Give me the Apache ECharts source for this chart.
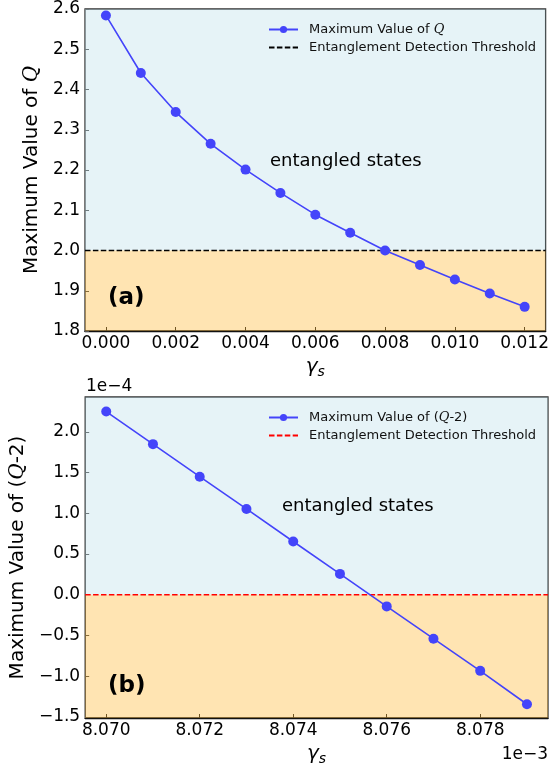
<!DOCTYPE html>
<html>
<head>
<meta charset="utf-8">
<script src="https://cdn.jsdelivr.net/npm/echarts@6/dist/echarts.min.js"></script>
<style>html,body{margin:0;padding:0;background:#fff}#c{width:552px;height:768px}</style>
</head>
<body>
<div id="c"></div>
<script>
// ---- data (a) ----
const gammaA = [0.000, 0.001, 0.002, 0.003, 0.004, 0.005, 0.006, 0.007, 0.008, 0.009, 0.010, 0.011, 0.012];
const maxQ = [2.584, 2.441, 2.344, 2.265, 2.201, 2.143, 2.089, 2.044, 2.000, 1.964, 1.928, 1.893, 1.860];
const thresholdA = 2.0;
const xTicksA = [0.000, 0.002, 0.004, 0.006, 0.008, 0.010, 0.012];
const yTicksA = [1.8, 1.9, 2.0, 2.1, 2.2, 2.3, 2.4, 2.5, 2.6];
const xRangeA = [-0.0006, 0.0126];
const yRangeA = [1.8, 2.6];
// ---- data (b) (x in 1e-3, y in 1e-4) ----
const gammaB = [8.070, 8.071, 8.072, 8.073, 8.074, 8.075, 8.076, 8.077, 8.078, 8.079];
const maxQm2 = [2.25, 1.85, 1.45, 1.054, 0.654, 0.256, -0.143, -0.54, -0.935, -1.345];
const thresholdB = 0.0;
const xTicksB = [8.070, 8.072, 8.074, 8.076, 8.078];
const yTicksB = [-1.5, -1.0, -0.5, 0.0, 0.5, 1.0, 1.5, 2.0];
const xRangeB = [8.06955, 8.07945];
const yRangeB = [-1.514, 2.429];

const FF = 'DejaVu Sans';
const BLUE_BG = 'rgba(173,216,230,0.3)';
const ORANGE_BG = 'rgba(255,165,0,0.3)';
const LINE_C = '#4444fa';
const minus = s => s.replace('-', '\u2212');

const chart = echarts.init(document.getElementById('c'), null, {renderer: 'canvas'});

function xAxisCfg(gi, range, ticks, dec) {
  return {
    type: 'value', gridIndex: gi, min: range[0], max: range[1],
    axisLine: {show: true, onZero: false, lineStyle: {color: '#111', width: 1.3}},
    axisTick: {show: true, inside: true, length: 4, customValues: ticks, lineStyle: {color: '#333'}},
    axisLabel: {customValues: ticks, formatter: v => v.toFixed(dec), fontFamily: FF, fontSize: 17, color: '#000', margin: 4},
    splitLine: {show: false},
    name: '{g|\u03b3}{s|s}', nameLocation: 'middle', nameGap: 24,
    nameTextStyle: {rich: {
      g: {fontFamily: 'DejaVu Sans', fontStyle: 'italic', fontSize: 20, color: '#000'},
      s: {fontFamily: 'DejaVu Sans', fontStyle: 'italic', fontSize: 14, color: '#000', padding: [10, 0, 0, 0]}
    }}
  };
}
function yAxisCfg(gi, range, ticks, name, gap) {
  return {
    type: 'value', gridIndex: gi, min: range[0], max: range[1],
    axisLine: {show: false, onZero: false},
    axisTick: {show: true, inside: true, length: 4, customValues: ticks, lineStyle: {color: '#555'}},
    axisLabel: {customValues: ticks, formatter: v => minus(v.toFixed(1)), fontFamily: FF, fontSize: 17, color: '#000', margin: 5},
    splitLine: {show: false},
    name: name, nameLocation: 'middle', nameRotate: 90, nameGap: gap,
    nameTextStyle: {rich: {
      n: {fontFamily: FF, fontSize: 20, color: '#000'},
      q: {fontFamily: 'DejaVu Serif', fontStyle: 'italic', fontSize: 20, color: '#000'}
    }}
  };
}
const legendRich = {
  n: {fontFamily: FF, fontSize: 13, color: '#111'},
  q: {fontFamily: 'DejaVu Serif', fontStyle: 'italic', fontSize: 13, color: '#111'}
};
const nameA = 'Maximum Value of Q';
const nameB = 'Maximum Value of (Q-2)';
const thrName = 'Entanglement Detection Threshold';
const thrNameB = 'Entanglement Detection Threshold ';
function legendFmt(n) {
  if (n === nameA) return '{n|Maximum Value of }{q|Q}';
  if (n === nameB) return '{n|Maximum Value of (}{q|Q}{n|-2)}';
  return '{n|' + n.trim() + '}';
}

const option = {
  animation: false,
  backgroundColor: '#fff',
  grid: [
    {left: 85, right: 4, top: 9, height: 322, show: true, borderColor: '#333', borderWidth: 1.3, backgroundColor: 'transparent'},
    {left: 85, right: 4, top: 397, height: 321, show: true, borderColor: '#333', borderWidth: 1.3, backgroundColor: 'transparent'}
  ],
  xAxis: [xAxisCfg(0, xRangeA, xTicksA, 3), xAxisCfg(1, xRangeB, xTicksB, 3)],
  yAxis: [
    yAxisCfg(0, yRangeA, yTicksA, '{n|Maximum Value of }{q|Q}', 42),
    yAxisCfg(1, yRangeB, yTicksB, '{n|Maximum Value of (}{q|Q}{n|-2)}', 56)
  ],
  legend: [
    {data: [nameA, {name: thrName, itemStyle: {opacity: 0}}], orient: 'vertical', left: 263, top: 18, itemWidth: 29, itemHeight: 9, itemGap: 5,
     formatter: legendFmt, textStyle: {rich: legendRich, padding: [0, 0, 0, 6]}},
    {data: [nameB, {name: thrNameB, itemStyle: {opacity: 0}}], orient: 'vertical', left: 263, top: 406, itemWidth: 29, itemHeight: 9, itemGap: 5,
     formatter: legendFmt, textStyle: {rich: legendRich, padding: [0, 0, 0, 6]}}
  ],
  series: [
    {
      name: nameA, type: 'line', xAxisIndex: 0, yAxisIndex: 0,
      data: gammaA.map((x, i) => [x, maxQ[i]]),
      symbol: 'circle', symbolSize: 10, z: 5,
      lineStyle: {color: LINE_C, width: 1.6}, itemStyle: {color: LINE_C},
      markArea: {silent: true, z: 1, data: [
        [{yAxis: thresholdA, itemStyle: {color: BLUE_BG}}, {yAxis: yRangeA[1]}],
        [{yAxis: yRangeA[0], itemStyle: {color: ORANGE_BG}}, {yAxis: thresholdA}]
      ]}
    },
    {
      name: thrName, type: 'line', xAxisIndex: 0, yAxisIndex: 0,
      data: [[xRangeA[0], thresholdA], [xRangeA[1], thresholdA]],
      symbol: 'none', z: 4,
      lineStyle: {color: '#000', width: 1.6, type: [5.5, 2.4]}, itemStyle: {color: '#000'}
    },
    {
      name: nameB, type: 'line', xAxisIndex: 1, yAxisIndex: 1,
      data: gammaB.map((x, i) => [x, maxQm2[i]]),
      symbol: 'circle', symbolSize: 10, z: 5,
      lineStyle: {color: LINE_C, width: 1.6}, itemStyle: {color: LINE_C},
      markArea: {silent: true, z: 1, data: [
        [{yAxis: thresholdB, itemStyle: {color: BLUE_BG}}, {yAxis: yRangeB[1]}],
        [{yAxis: yRangeB[0], itemStyle: {color: ORANGE_BG}}, {yAxis: thresholdB}]
      ]}
    },
    {
      name: thrNameB, type: 'line', xAxisIndex: 1, yAxisIndex: 1,
      data: [[xRangeB[0], thresholdB], [xRangeB[1], thresholdB]],
      symbol: 'none', z: 4,
      lineStyle: {color: '#ff0000', width: 1.6, type: [5.5, 2.4]}, itemStyle: {color: '#ff0000'}
    }
  ],
  graphic: [
    {type: 'text', z: 100, left: 270, top: 152, style: {text: 'entangled states', font: '18px "DejaVu Sans"', fill: '#000'}},
    {type: 'text', z: 100, left: 282, top: 497, style: {text: 'entangled states', font: '18px "DejaVu Sans"', fill: '#000'}},
    {type: 'text', z: 100, left: 108, top: 287, style: {text: '(a)', font: 'bold 23px "DejaVu Sans"', fill: '#000'}},
    {type: 'text', z: 100, left: 108, top: 675, style: {text: '(b)', font: 'bold 23px "DejaVu Sans"', fill: '#000'}},
    {type: 'text', z: 100, left: 86, top: 378, style: {text: '1e\u22124', font: '17px "DejaVu Sans"', fill: '#000'}},
    {type: 'text', z: 100, right: 4, top: 746, style: {text: '1e\u22123', font: '17px "DejaVu Sans"', fill: '#000'}}
  ]
};
chart.setOption(option);
</script>
</body>
</html>
